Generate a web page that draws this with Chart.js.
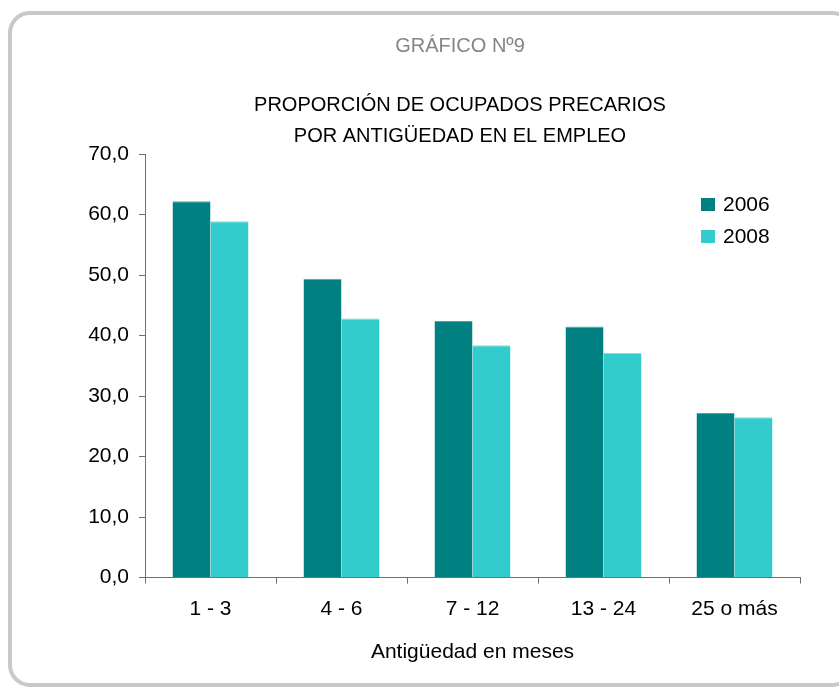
<!DOCTYPE html>
<html>
<head>
<meta charset="utf-8">
<script src="https://cdn.jsdelivr.net/npm/chart.js@4/dist/chart.umd.min.js"></script>
<style>
    html, body { margin: 0; padding: 0; background: #ffffff; overflow: hidden; }
    #marco {
        position: absolute; left: 8px; top: 11px; width: 846px; height: 676px;
        box-sizing: border-box; border: 4px solid #c8c8c8; border-radius: 22px;
    }
    #grafico { position: absolute; left: 0; top: 0; }
</style>
</head>
<body>
<div id="marco"></div>
<canvas id="grafico" width="839" height="687"></canvas>
<script>
// datos
const categorias = ["1 - 3", "4 - 6", "7 - 12", "13 - 24", "25 o más"];
const anios = ["2006", "2008"];
const valores2006 = [62.2, 49.4, 42.4, 41.5, 27.2];
const valores2008 = [58.9, 42.8, 38.4, 37.1, 26.5];
const colores = ["#008080", "#33cccc"];
const bordes = ["#4fa8a8", "#7fe3e3"];

const fuente = "'Liberation Sans', Arial, sans-serif";

// leyenda dentro del área del gráfico, arriba a la derecha
const leyendaInterna = {
    id: 'leyendaInterna',
    afterDatasetsDraw(chart) {
        let ctx = chart.ctx;
        ctx.save();
        ctx.font = "21px " + fuente;
        ctx.textBaseline = 'middle';
        ctx.textAlign = 'left';
        chart.data.datasets.forEach(function (ds, i) {
            let y = 198 + i * 32;
            ctx.fillStyle = ds.backgroundColor;
            ctx.fillRect(701, y, 14, 13);
            ctx.fillStyle = '#000000';
            ctx.fillText(ds.label, 723, y + 7);
        });
        ctx.restore();
    }
};

let ctx = document.getElementById('grafico').getContext('2d');
new Chart(ctx, {
    type: 'bar',
    data: {
        labels: categorias,
        datasets: [
            { label: anios[0], data: valores2006, backgroundColor: colores[0], borderColor: bordes[0],
              borderWidth: { top: 1, left: 0, right: 0, bottom: 0 }, borderSkipped: false },
            { label: anios[1], data: valores2008, backgroundColor: colores[1], borderColor: bordes[1],
              borderWidth: { top: 1, left: 0, right: 0, bottom: 0 }, borderSkipped: false }
        ]
    },
    options: {
        responsive: false,
        animation: false,
        layout: { padding: { left: 85, right: 4, top: 34, bottom: 18 } },
        datasets: { bar: { categoryPercentage: 0.58, barPercentage: 1.0 } },
        plugins: {
            legend: { display: false },
            tooltip: { enabled: false },
            title: {
                display: true,
                text: 'GRÁFICO Nº9',
                color: '#858585',
                font: { family: fuente, size: 20, weight: 'normal', lineHeight: 1.2 },
                padding: { top: 0, bottom: 31.5 }
            },
            subtitle: {
                display: true,
                text: ['PROPORCIÓN DE OCUPADOS PRECARIOS', 'POR ANTIGÜEDAD EN EL EMPLEO'],
                color: '#000000',
                font: { family: fuente, size: 20, weight: 'normal', lineHeight: 1.55 },
                padding: { top: 0, bottom: 2.5 }
            }
        },
        scales: {
            x: {
                grid: { display: true, offset: true, drawOnChartArea: false, drawTicks: true,
                        tickLength: 6, color: '#707070' },
                border: { display: true, color: '#707070', width: 1 },
                ticks: { color: '#000000', padding: 13, font: { family: fuente, size: 21 } },
                title: {
                    display: true,
                    text: 'Antigüedad en meses',
                    color: '#000000',
                    font: { family: fuente, size: 21 },
                    padding: { top: 5, bottom: 4 }
                }
            },
            y: {
                min: 0,
                max: 70,
                afterFit: function (scale) { scale.width = 60; },
                grid: { display: true, drawOnChartArea: false, drawTicks: true,
                        tickLength: 6, color: '#707070' },
                border: { display: true, color: '#707070', width: 1 },
                ticks: {
                    stepSize: 10,
                    color: '#000000',
                    padding: 10,
                    font: { family: fuente, size: 21 },
                    callback: function (v) { return v.toFixed(1).replace('.', ','); }
                }
            },
            // margen derecho vacío, para que el título quede centrado como en el original
            margen: {
                type: 'linear',
                position: 'right',
                display: true,
                afterFit: function (scale) { scale.width = 35; },
                grid: { display: false },
                border: { display: false },
                ticks: { display: false }
            }
        }
    },
    plugins: [leyendaInterna]
});
</script>
</body>
</html>
